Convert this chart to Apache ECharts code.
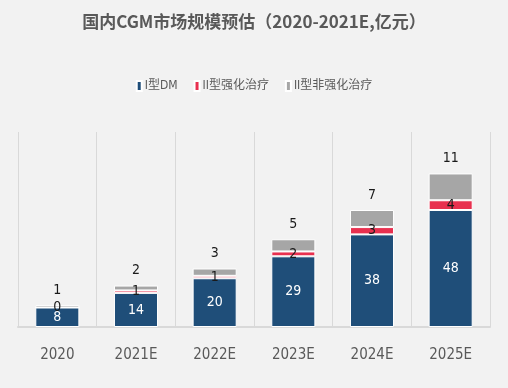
<!DOCTYPE html>
<html><head><meta charset="utf-8">
<script src="https://cdn.jsdelivr.net/npm/echarts@6/dist/echarts.min.js"></script>
<style>html,body{margin:0;padding:0;background:#f2f2f2;}#c{width:508px;height:388px;}</style>
</head><body><div id="c"></div>
<script>
const categories = ['2020','2021E','2022E','2023E','2024E','2025E'];
const type1DM = [8, 14, 20, 29, 38, 48];
const type2Intensive = [0, 1, 1, 2, 3, 4];
const type2NonIntensive = [1, 2, 3, 5, 7, 11];
const seriesNames = ['I型DM', 'II型强化治疗', 'II型非强化治疗'];

const FONT = '"DejaVu Sans Condensed", "Noto Sans CJK SC", sans-serif';
const chart = echarts.init(document.getElementById('c'), null, {renderer: 'canvas'});
const baseLabel = {show: true, fontFamily: FONT, fontSize: 14};
chart.setOption({
  backgroundColor: '#f2f2f2',
  animation: false,
  title: {
    text: '国内CGM市场规模预估（2020-2021E,亿元）',
    left: 'center', top: 8,
    textStyle: {fontFamily: '"Noto Sans CJK SC", sans-serif', fontSize: 17, fontWeight: 'bold', color: '#595959'}
  },
  legend: {
    top: 75, left: 'center', itemWidth: 5, itemHeight: 10, itemGap: 16,
    icon: 'rect',
    textStyle: {fontFamily: FONT, fontSize: 12, color: '#595959', padding: [0, 0, 0, -2]},
    data: seriesNames
  },
  grid: {left: 18, right: 18, top: 132, bottom: 61},
  xAxis: {
    type: 'category', data: categories,
    axisLine: {lineStyle: {color: '#d9d9d9', width: 2}},
    axisTick: {show: false},
    splitLine: {show: true, lineStyle: {color: '#d9d9d9', width: 1}},
    axisLabel: {fontFamily: FONT, fontSize: 15, color: '#595959', margin: 21}
  },
  yAxis: {type: 'value', min: 0, max: 80, show: false, splitLine: {show: false}},
  series: [
    {name: seriesNames[0], type: 'bar', stack: 't', data: type1DM, barWidth: '56%',
     itemStyle: {color: '#1f4e79', borderColor: '#ffffff', borderWidth: 1},
     label: Object.assign({}, baseLabel, {position: 'inside', color: '#ffffff'})},
    {name: seriesNames[1], type: 'bar', stack: 't', data: type2Intensive,
     itemStyle: {color: '#e8304f', borderColor: '#ffffff', borderWidth: 1},
     label: Object.assign({}, baseLabel, {position: 'inside', color: '#1a1a1a'})},
    {name: seriesNames[2], type: 'bar', stack: 't', data: type2NonIntensive,
     itemStyle: {color: '#a6a6a6', borderColor: '#ffffff', borderWidth: 1},
     label: Object.assign({}, baseLabel, {position: 'top', distance: 8, color: '#1a1a1a'})}
  ]
});
</script></body></html>
